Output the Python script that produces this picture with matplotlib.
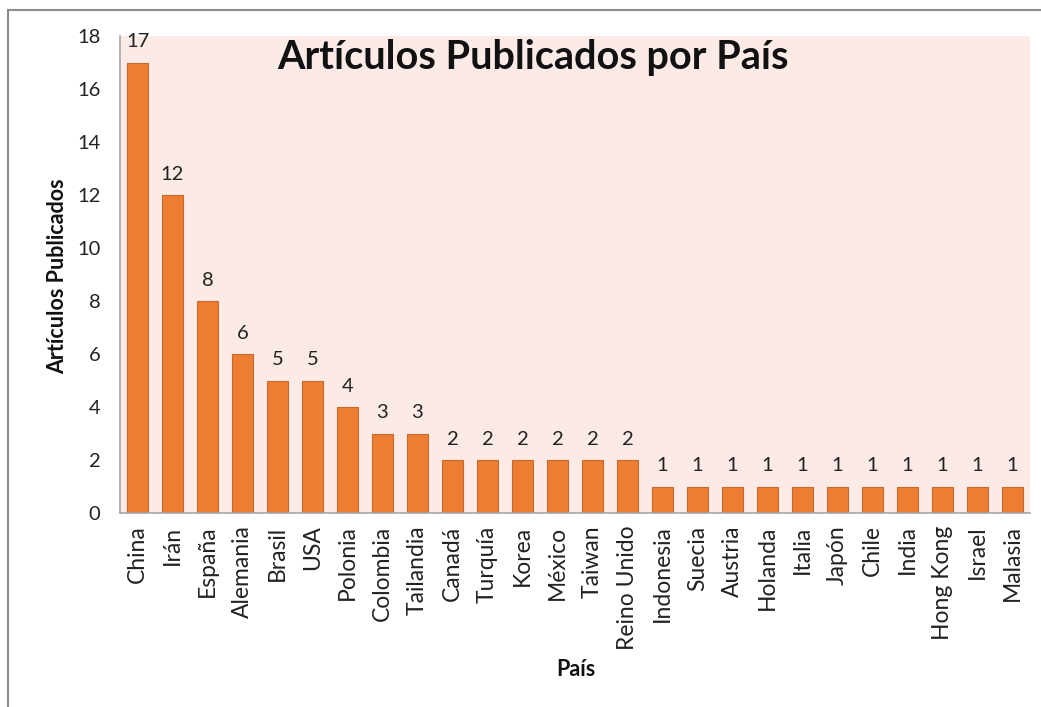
import matplotlib.pyplot as plt
from matplotlib.lines import Line2D

paises = ['China', 'Irán', 'España', 'Alemania', 'Brasil', 'USA', 'Polonia', 'Colombia',
          'Tailandia', 'Canadá', 'Turquía', 'Korea', 'México', 'Taiwan', 'Reino Unido',
          'Indonesia', 'Suecia', 'Austria', 'Holanda', 'Italia', 'Japón', 'Chile', 'India',
          'Hong Kong', 'Israel', 'Malasia']
articulos = [17, 12, 8, 6, 5, 5, 4, 3, 3, 2, 2, 2, 2, 2, 2, 1, 1, 1, 1, 1, 1, 1, 1, 1, 1, 1]
y_ticks = [0, 2, 4, 6, 8, 10, 12, 14, 16, 18]

plt.rcParams['font.family'] = ['Lato', 'DejaVu Sans']

fig = plt.figure(figsize=(10.41, 7.07), dpi=100)
ax = fig.add_axes([0.1153, 0.2744, 0.874, 0.6746])
ax.set_facecolor('#fbeae6')

pos = range(len(paises))
ax.bar(pos, articulos, width=0.62, color='#ed7d31', edgecolor='#c8682a', linewidth=0.8, zorder=2)
for i, v in zip(pos, articulos):
    ax.annotate(str(v), (i, v), xytext=(0, 9), textcoords='offset points',
                ha='center', va='bottom', fontsize=14.5, color='#222222')

ax.set_xlim(-0.5, len(paises) - 0.5)
ax.set_ylim(0, 18)
ax.set_yticks(y_ticks)
ax.tick_params(axis='y', length=0, labelsize=14.5, labelcolor='#222222', pad=14)
ax.set_xticks(list(pos))
ax.set_xticklabels(paises, rotation=90, fontsize=16.5, color='#222222')
ax.tick_params(axis='x', length=0, pad=9)

for s in ['top', 'right']:
    ax.spines[s].set_visible(False)
for s in ['left', 'bottom']:
    ax.spines[s].set_color('#a6a6a6')
    ax.spines[s].set_linewidth(1.2)

ax.text(0.454, 0.954, 'Artículos Publicados por País', transform=ax.transAxes,
        ha='center', va='center', fontsize=28.5, fontweight='bold', color='#111111')
fig.text(58 / 1041, 1 - 276 / 707, 'Artículos Publicados', rotation=90,
         ha='center', va='center', fontsize=15.5, fontweight='bold', color='#111111')
fig.text(576 / 1041, 1 - 670 / 707, 'País', ha='center', va='center',
         fontsize=15.5, fontweight='bold', color='#111111')

# outer chart frame (top and left edges)
fig.add_artist(Line2D([8 / 1041, 1], [1 - 10 / 707, 1 - 10 / 707], color='#8c8c8c', lw=1.5))
fig.add_artist(Line2D([8 / 1041, 8 / 1041], [0, 1 - 10 / 707], color='#8c8c8c', lw=1.5))

fig.savefig('out.png', dpi=100)
